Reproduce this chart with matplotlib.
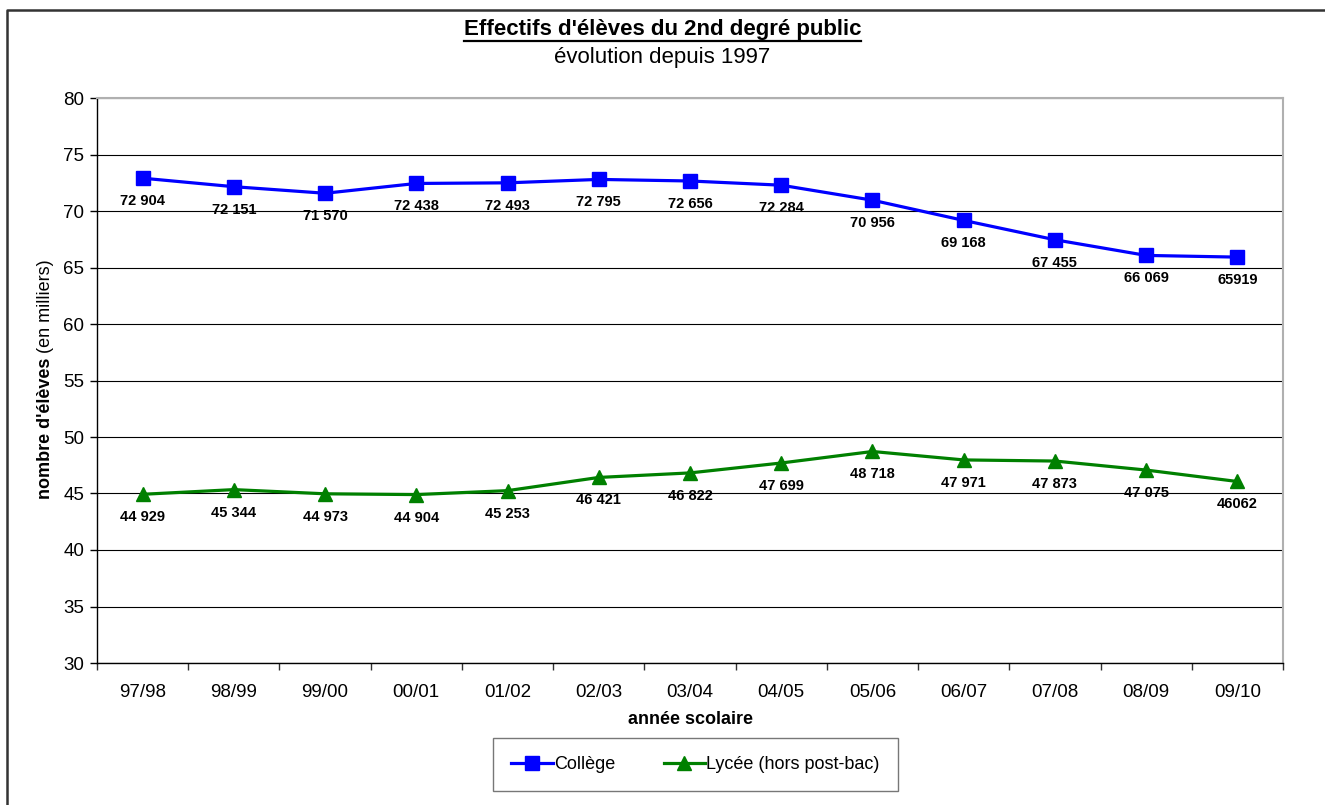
import matplotlib
matplotlib.use("Agg")
import matplotlib.pyplot as plt
from matplotlib.lines import Line2D

plt.rcParams['font.family'] = ['Liberation Sans', 'DejaVu Sans']

# DATA
annees = ["97/98", "98/99", "99/00", "00/01", "01/02", "02/03", "03/04",
          "04/05", "05/06", "06/07", "07/08", "08/09", "09/10"]
college = [72.904, 72.151, 71.570, 72.438, 72.493, 72.795, 72.656,
           72.284, 70.956, 69.168, 67.455, 66.069, 65.919]
college_txt = ["72 904", "72 151", "71 570", "72 438", "72 493", "72 795", "72 656",
               "72 284", "70 956", "69 168", "67 455", "66 069", "65919"]
lycee = [44.929, 45.344, 44.973, 44.904, 45.253, 46.421, 46.822,
         47.699, 48.718, 47.971, 47.873, 47.075, 46.062]
lycee_txt = ["44 929", "45 344", "44 973", "44 904", "45 253", "46 421", "46 822",
             "47 699", "48 718", "47 971", "47 873", "47 075", "46062"]

W, H = 1325, 805
fig = plt.figure(figsize=(W / 100, H / 100), dpi=100)
ax = fig.add_axes([97 / W, 1 - 663 / H, (1283 - 97) / W, (663 - 98) / H])

x = list(range(len(annees)))
ax.plot(x, college, color='#0000FF', lw=2.3, marker='s', ms=9.5, label='Collège', zorder=3)
ax.plot(x, lycee, color='#008000', lw=2.3, marker='^', ms=10, label='Lycée (hors post-bac)', zorder=3)

for i in x:
    ax.annotate(college_txt[i], (i, college[i]), xytext=(0, -16.5), textcoords='offset points',
                ha='center', va='center', fontsize=10.5, fontweight='bold')
    ax.annotate(lycee_txt[i], (i, lycee[i]), xytext=(0, -16.5), textcoords='offset points',
                ha='center', va='center', fontsize=10.5, fontweight='bold')

ax.set_xlim(-0.5, len(annees) - 0.5)
ax.set_ylim(30, 80)
ax.set_yticks(range(30, 81, 5))
ax.set_xticks(x)
ax.set_xticklabels(annees)
ax.set_xticks([i - 0.5 for i in range(len(annees) + 1)], minor=True)
ax.tick_params(axis='x', which='major', length=0, pad=15, labelsize=13.5)
ax.tick_params(axis='x', which='minor', length=5, width=1, color='#333333')
ax.tick_params(axis='y', length=5, width=1, labelsize=13.5, pad=4)
ax.grid(axis='y', color='black', lw=0.8)
ax.set_axisbelow(True)
for s in ['top', 'right']:
    ax.spines[s].set_color('#b0b0b0')
    ax.spines[s].set_linewidth(1.5)
for s in ['left', 'bottom']:
    ax.spines[s].set_color('black')
    ax.spines[s].set_linewidth(1)

ax.set_xlabel("année scolaire", fontsize=13, fontweight='bold', labelpad=7)

leg = ax.legend(loc='upper center', bbox_to_anchor=(0.5045, -0.1165), ncol=2, fontsize=13,
                frameon=True, fancybox=False, edgecolor='#555555', handlelength=2.3,
                handletextpad=0.05, columnspacing=2.7, borderpad=1.0)
leg.get_frame().set_linewidth(1)

# titre
t1 = fig.text(0.5, 1 - 30 / H, "Effectifs d'élèves du 2nd degré public", ha='center', va='center',
              fontsize=16, fontweight='bold')
fig.text(0.5, 1 - 57 / H, "évolution depuis 1997", ha='center', va='center', fontsize=16)

fig.canvas.draw()
r = fig.canvas.get_renderer()
bb = t1.get_window_extent(r)
fig.add_artist(Line2D([bb.x0 / W, bb.x1 / W], [(bb.y0 - 0.5) / H, (bb.y0 - 0.5) / H],
                      color='black', lw=1.6, transform=fig.transFigure))

# label y en deux parties (gras + normal)
cy = 1 - 379 / H
xl = 45 / W
tb = fig.text(xl, 0, "nombre d'élèves", rotation=90, ha='center', va='bottom',
              fontsize=13, fontweight='bold')
tr = fig.text(xl, 0, " (en milliers)", rotation=90, ha='center', va='bottom', fontsize=13)
fig.canvas.draw()
hb = tb.get_window_extent(r).height
hr = tr.get_window_extent(r).height
y0 = cy * H - (hb + hr) / 2
tb.set_y(y0 / H)
tr.set_y((y0 + hb) / H)

# cadre exterieur
fig.add_artist(Line2D([6.5 / W, 6.5 / W, 1.0], [0, 1 - 10.5 / H, 1 - 10.5 / H],
                      color='#333333', lw=1.8, transform=fig.transFigure))

fig.savefig("out.png", dpi=100)
